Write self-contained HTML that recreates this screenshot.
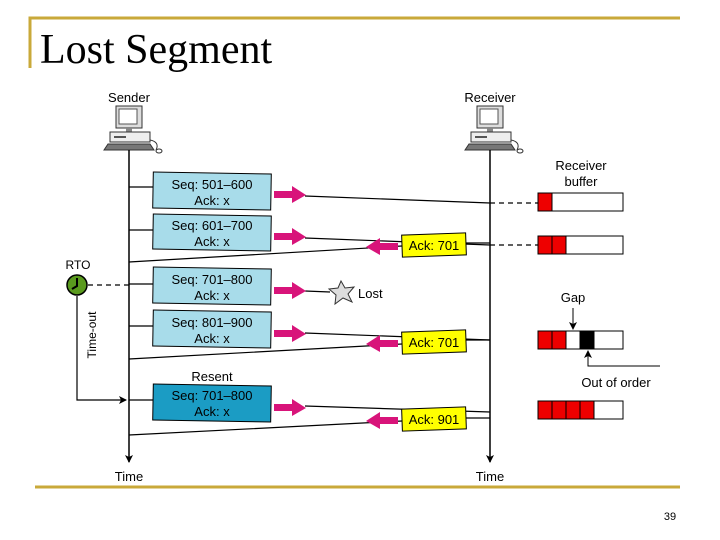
<!DOCTYPE html>
<html><head><style>
body{margin:0;width:720px;height:540px;background:#fff;overflow:hidden;position:relative;font-family:"Liberation Sans",sans-serif}
.t{position:absolute;left:40px;top:26px;font-family:"Liberation Serif",serif;font-size:42px;color:#000}
</style></head><body>
<div class="t">Lost Segment</div>
<svg width="720" height="540" style="position:absolute;left:0;top:0" font-family="Liberation Sans, sans-serif">
<defs>
<marker id="ah" markerWidth="8" markerHeight="8" refX="7" refY="4" orient="auto" markerUnits="userSpaceOnUse"><path d="M0,0 L8,4 L0,8 L2,4z" fill="#000"/></marker>
<g id="pc">
<rect x="12" y="0" width="26" height="22" fill="#ddd" stroke="#333"/>
<rect x="15" y="3" width="18" height="15" fill="#fff" stroke="#555"/>
<rect x="22" y="22" width="6" height="4" fill="#888"/>
<rect x="6" y="26" width="40" height="10" fill="#eee" stroke="#333"/>
<rect x="10" y="30" width="12" height="2" fill="#555"/>
<path d="M0,44 L4,38 L46,38 L50,44z" fill="#777" stroke="#333"/>
<path d="M46,34 Q56,36 52,44" fill="none" stroke="#333"/>
<ellipse cx="55" cy="45" rx="3" ry="2" fill="#fff" stroke="#333"/>
</g>
</defs>
<path d="M30,68 V18 H680" stroke="#c9a93a" stroke-width="3" fill="none"/>
<line x1="35" y1="487" x2="680" y2="487" stroke="#c9a93a" stroke-width="3"/>
<text x="129" y="102" font-size="13" text-anchor="middle">Sender</text>
<text x="490" y="102" font-size="13" text-anchor="middle">Receiver</text>
<use href="#pc" x="104" y="106"/>
<use href="#pc" x="465" y="106"/>
<line x1="129" y1="150" x2="129" y2="462" stroke="#000" stroke-width="1.5" marker-end="url(#ah)"/>
<line x1="490" y1="150" x2="490" y2="462" stroke="#000" stroke-width="1.5" marker-end="url(#ah)"/>
<text x="129" y="481" font-size="13" text-anchor="middle">Time</text>
<text x="490" y="481" font-size="13" text-anchor="middle">Time</text>
<g stroke="#000" stroke-width="1.2" fill="none">
<path d="M129,187 H153 M305,196 L490,203"/>
<path d="M129,230 H153 M305,238 L490,245"/>
<path d="M490,243 L466,243 M402,246 L129,262"/>
<path d="M129,284 H153 M305,291 L330,292"/>
<path d="M129,326 H153 M305,333 L490,340"/>
<path d="M490,340 L466,340 M402,344 L129,359"/>
<path d="M129,400 H153 M305,406 L490,412"/>
<path d="M490,418 L466,418 M402,421 L129,435"/>
<path d="M490,203 H538 M490,245 H538" stroke-dasharray="5,4"/>
<path d="M88,285 H129" stroke-dasharray="5,4"/>
<path d="M77,296 V400 H126" marker-end="url(#ah)"/>
</g>
<g stroke="#000" stroke-width="1" font-size="13" text-anchor="middle">
<rect x="153" y="173" width="118" height="36" fill="#a8dcea" transform="rotate(1 212 191)"/>
<rect x="153" y="215" width="118" height="35" fill="#a8dcea" transform="rotate(1 212 232)"/>
<rect x="153" y="268" width="118" height="36" fill="#a8dcea" transform="rotate(1 212 286)"/>
<rect x="153" y="311" width="118" height="36" fill="#a8dcea" transform="rotate(1 212 329)"/>
<rect x="153" y="385" width="118" height="36" fill="#1b9cc4" transform="rotate(1 212 403)"/>
</g>
<g font-size="13" text-anchor="middle" fill="#000">
<text x="212" y="189">Seq: 501–600</text><text x="212" y="205">Ack: x</text>
<text x="212" y="230">Seq: 601–700</text><text x="212" y="246">Ack: x</text>
<text x="212" y="284">Seq: 701–800</text><text x="212" y="300">Ack: x</text>
<text x="212" y="327">Seq: 801–900</text><text x="212" y="343">Ack: x</text>
<text x="212" y="381">Resent</text>
<text x="212" y="400">Seq: 701–800</text><text x="212" y="416">Ack: x</text>
</g>
<g fill="#d8147a">
<path d="M274,191 H292 V186 L306,195 L292,203 V198 H274z"/>
<path d="M274,233 H292 V228 L306,237 L292,245 V240 H274z"/>
<path d="M274,287 H292 V282 L306,291 L292,299 V294 H274z"/>
<path d="M274,330 H292 V325 L306,334 L292,342 V337 H274z"/>
<path d="M274,404 H292 V399 L306,408 L292,416 V411 H274z"/>
<path d="M398,243 H380 V238 L366,247 L380,255 V250 H398z"/>
<path d="M398,340 H380 V335 L366,344 L380,352 V347 H398z"/>
<path d="M398,417 H380 V412 L366,421 L380,429 V424 H398z"/>
</g>
<g stroke="#000" stroke-width="1" fill="#ffff00">
<rect x="402" y="234" width="64" height="22" transform="rotate(-2 434 245)"/>
<rect x="402" y="331" width="64" height="22" transform="rotate(-2 434 342)"/>
<rect x="402" y="408" width="64" height="22" transform="rotate(-2 434 419)"/>
</g>
<g font-size="13" text-anchor="middle">
<text x="434" y="250">Ack: 701</text><text x="434" y="347">Ack: 701</text><text x="434" y="424">Ack: 901</text>
</g>
<path d="M341,281 L345,288 L354,287 L348,294 L352,302 L343,298 L335,304 L336,295 L329,289 L338,288z" fill="#ddd" stroke="#333"/>
<text x="358" y="298" font-size="13">Lost</text>
<text x="78" y="269" font-size="12" text-anchor="middle">RTO</text>
<circle cx="77" cy="285" r="10" fill="#5a9a1e" stroke="#000" stroke-width="1.5"/>
<path d="M77,278 V286 L72,289" stroke="#000" stroke-width="2" fill="none"/>
<text x="96" y="335" font-size="12" text-anchor="middle" transform="rotate(-90 96 335)">Time-out</text>
<text x="581" y="170" font-size="13" text-anchor="middle">Receiver</text>
<text x="581" y="186" font-size="13" text-anchor="middle">buffer</text>
<text x="573" y="302" font-size="13" text-anchor="middle">Gap</text>
<text x="616" y="387" font-size="13" text-anchor="middle">Out of order</text>
<g stroke="#000" stroke-width="1">
<rect x="538" y="193" width="85" height="18" fill="#fff"/><rect x="538" y="193" width="14" height="18" fill="#e00"/>
<rect x="538" y="236" width="85" height="18" fill="#fff"/><rect x="538" y="236" width="14" height="18" fill="#e00"/><rect x="552" y="236" width="14" height="18" fill="#e00"/>
<rect x="538" y="331" width="85" height="18" fill="#fff"/><rect x="538" y="331" width="14" height="18" fill="#e00"/><rect x="552" y="331" width="14" height="18" fill="#e00"/><rect x="580" y="331" width="14" height="18" fill="#000"/>
<rect x="538" y="401" width="85" height="18" fill="#fff"/><rect x="538" y="401" width="14" height="18" fill="#e00"/><rect x="552" y="401" width="14" height="18" fill="#e00"/><rect x="566" y="401" width="14" height="18" fill="#e00"/><rect x="580" y="401" width="14" height="18" fill="#e00"/>
</g>
<path d="M573,308 V329" stroke="#000" fill="none" marker-end="url(#ah)"/>
<path d="M660,366 H588 V351" stroke="#000" fill="none" marker-end="url(#ah)"/>
<text x="670" y="520" font-size="11" text-anchor="middle">39</text>
</svg>
</body></html>
